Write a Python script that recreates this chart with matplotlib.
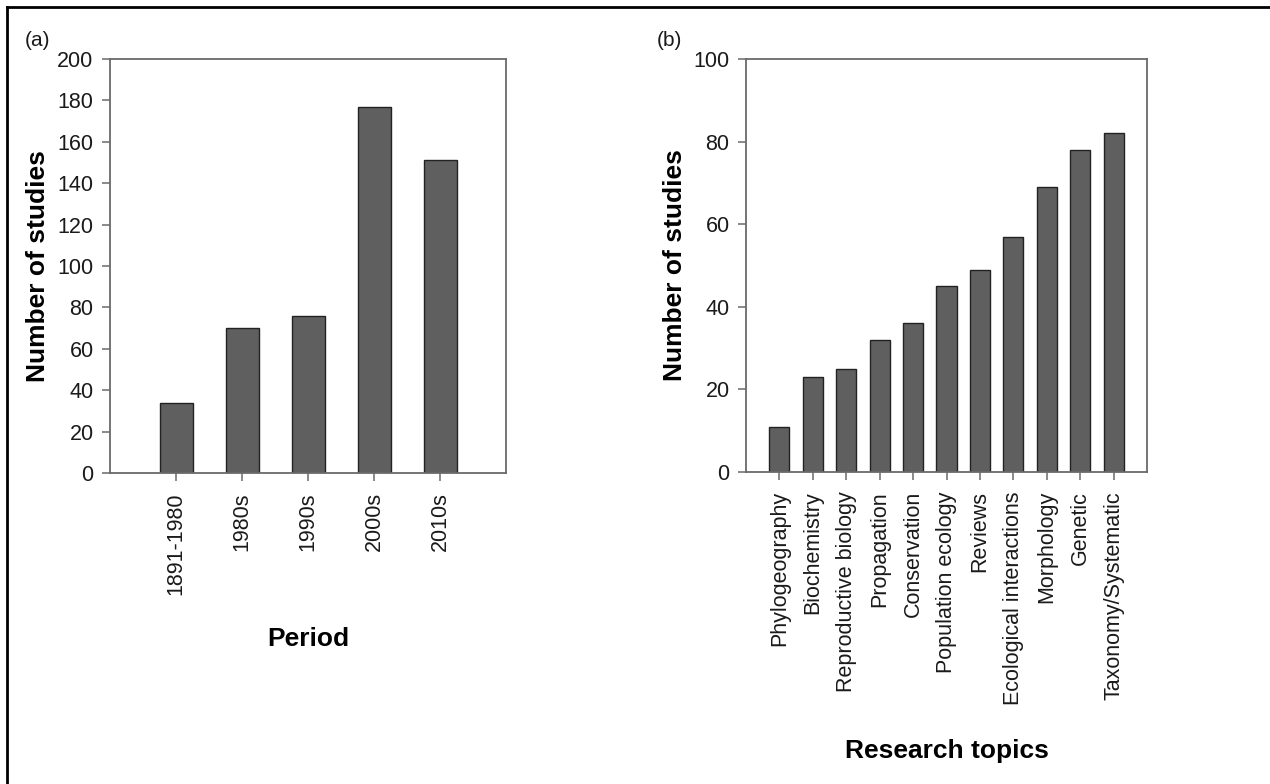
import matplotlib
matplotlib.use("Agg")
import matplotlib.pyplot as plt
from matplotlib.lines import Line2D
import numpy as np

plt.rcParams['font.family'] = ['Liberation Sans', 'DejaVu Sans']

periods = ["1891-1980", "1980s", "1990s", "2000s", "2010s"]
period_counts = [34, 70, 76, 177, 151]

topics = ["Phylogeography", "Biochemistry", "Reproductive biology", "Propagation",
          "Conservation", "Population ecology", "Reviews", "Ecological interactions",
          "Morphology", "Genetic", "Taxonomy/Systematic"]
topic_counts = [11, 23, 25, 32, 36, 45, 49, 57, 69, 78, 82]

left_yticks = [0, 20, 40, 60, 80, 100, 120, 140, 160, 180, 200]
right_yticks = [0, 20, 40, 60, 80, 100]

W, H = 1270, 784
fig = plt.figure(figsize=(W / 100, H / 100), dpi=100)

bar_color = "#5f5f5f"
edge_color = "#222222"
spine_color = "#6a6a6a"
tick_fs = 15.5
label_fs = 19


def style(ax):
    for s in ax.spines.values():
        s.set_color(spine_color)
        s.set_linewidth(1.3)
    ax.tick_params(direction="out", length=5.8, width=1.1, color=spine_color,
                   labelsize=tick_fs, labelcolor="#1a1a1a")
    ax.tick_params(axis="y", pad=6)
    ax.tick_params(axis="x", pad=8)


axL = fig.add_axes([110 / W, 1 - 473 / H, (506 - 110) / W, (473 - 59) / H])
xL = np.arange(len(periods))
axL.bar(xL, period_counts, width=0.5, color=bar_color, edgecolor=edge_color, linewidth=1.0)
axL.set_xlim(-1, 5)
axL.set_ylim(0, 200)
axL.set_yticks(left_yticks)
axL.set_xticks(xL)
axL.set_xticklabels(periods, rotation=90)
style(axL)
axL.set_ylabel("Number of studies", fontsize=label_fs, fontweight="bold", labelpad=5)
axL.set_xlabel("Period", fontsize=label_fs, fontweight="bold", labelpad=23)

axR = fig.add_axes([746 / W, 1 - 472 / H, (1147 - 746) / W, (472 - 59) / H])
xR = np.arange(len(topics))
axR.bar(xR, topic_counts, width=0.6, color=bar_color, edgecolor=edge_color, linewidth=1.0)
axR.set_xlim(-1, 11)
axR.set_ylim(0, 100)
axR.set_yticks(right_yticks)
axR.set_xticks(xR)
axR.set_xticklabels(topics, rotation=90)
style(axR)
axR.set_ylabel("Number of studies", fontsize=label_fs, fontweight="bold", labelpad=5)
axR.set_xlabel("Research topics", fontsize=label_fs, fontweight="bold", labelpad=25)

fig.text(25 / W, 1 - 41 / H, "(a)", fontsize=15, va="center", ha="left", color="#1a1a1a")
fig.text(657 / W, 1 - 41 / H, "(b)", fontsize=15, va="center", ha="left", color="#1a1a1a")

# partial frame (left and top edges visible in the reference)
fig.add_artist(Line2D([6.5 / W, 6.5 / W], [0, 1 - 7 / H], transform=fig.transFigure,
                      color="black", linewidth=2.0, solid_capstyle="projecting"))
fig.add_artist(Line2D([6.5 / W, 1], [1 - 7 / H, 1 - 7 / H], transform=fig.transFigure,
                      color="black", linewidth=2.0, solid_capstyle="projecting"))

fig.savefig("out.png", dpi=100, facecolor="white")
